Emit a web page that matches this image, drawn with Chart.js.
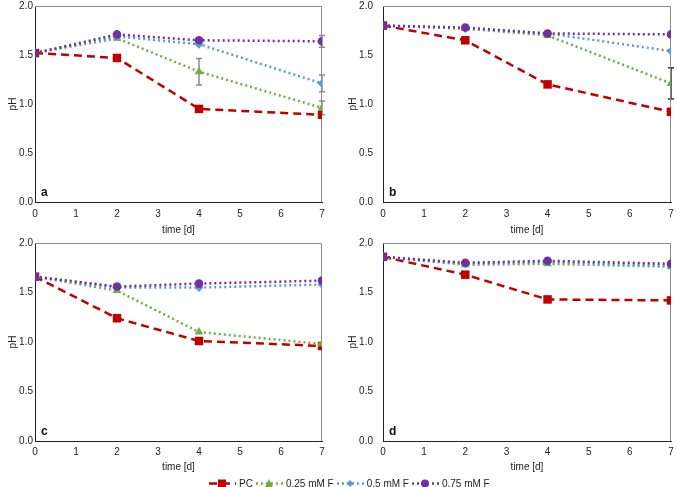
<!DOCTYPE html>
<html>
<head>
<meta charset="utf-8">
<script src="https://cdn.jsdelivr.net/npm/chart.js@4"></script>
<style>
  body { margin: 0; background: #fff; font-family: "Liberation Sans", Arial, sans-serif; }
  #wrap { position: relative; width: 677px; height: 487px; overflow: hidden; }
  .panel { position: absolute; }
  #legend { position: absolute; left: 209px; top: 475px; height: 16px; display: flex; align-items: center;
            font-size: 10px; color: #222; white-space: nowrap; }
  #legend span.item { display: inline-flex; align-items: center; margin-right: 3px; }
  #legend svg { margin-right: 3px; }
</style>
</head>
<body>
<div id="wrap">
  <div class="panel" style="left:0;top:0;width:335px;height:237px"><canvas id="chartA"></canvas></div>
  <div class="panel" style="left:340px;top:0;width:337px;height:237px"><canvas id="chartB"></canvas></div>
  <div class="panel" style="left:0;top:236px;width:335px;height:237px"><canvas id="chartC"></canvas></div>
  <div class="panel" style="left:340px;top:236px;width:337px;height:237px"><canvas id="chartD"></canvas></div>
  <div id="legend"></div>
</div>
<script>
// x values (days)
const days = [0, 2, 4, 7];
const seriesNames = ['PC', '0.25 mM F', '0.5 mM F', '0.75 mM F'];

// panel a
const aPC  = [1.52, 1.47, 0.95, 0.89];
const a025 = [1.52, 1.67, 1.33, 0.96];
const a05  = [1.52, 1.69, 1.61, 1.21];
const a075 = [1.52, 1.71, 1.65, 1.64];
const a025Err = [0, 0, 0.135, 0.07];
const a05Err  = [0, 0, 0, 0.085];
const a075Err = [0, 0, 0, 0.06];

// panel b
const bPC  = [1.80, 1.65, 1.20, 0.92];
const b025 = [1.80, 1.77, 1.70, 1.21];
const b05  = [1.80, 1.77, 1.72, 1.54];
const b075 = [1.80, 1.78, 1.72, 1.71];
const b025Err = [0, 0, 0, 0.16];

// panel c
const cPC  = [1.66, 1.24, 1.01, 0.96];
const c025 = [1.66, 1.52, 1.10, 0.98];
const c05  = [1.66, 1.55, 1.55, 1.58];
const c075 = [1.66, 1.56, 1.59, 1.62];

// panel d
const dPC  = [1.86, 1.68, 1.43, 1.42];
const d025 = [1.86, 1.78, 1.79, 1.76];
const d05  = [1.86, 1.79, 1.81, 1.77];
const d075 = [1.86, 1.80, 1.82, 1.79];

const yTicks = [0, 0.5, 1.0, 1.5, 2.0];
const xTicks = [0, 1, 2, 3, 4, 5, 6, 7];

const styles = [
    { color: '#C00000', dash: [8, 5], point: 'rect', radius: 6, order: 4 },
    { color: '#70AD47', dash: [2, 3], point: 'triangle', radius: 5, order: 3 },
    { color: '#5B9BD5', dash: [2, 3], point: 'rectRot', radius: 4.5, order: 2 },
    { color: '#7030A0', dash: [2, 3], point: 'circle', radius: 4.3, order: 1 }
];

const FONT = '"Liberation Sans", Arial, sans-serif';

function toPoints(vals) {
    return vals.map((v, i) => ({ x: days[i], y: v }));
}

// error bars drawn behind markers
const errorBarPlugin = {
    id: 'errorBars',
    beforeDatasetsDraw(chart) {
        const ctx = chart.ctx;
        const xs = chart.scales.x, ys = chart.scales.y;
        ctx.save();
        ctx.lineWidth = 1.5;
        chart.data.datasets.forEach(ds => {
            if (!ds.errors) return;
            ctx.strokeStyle = ds.errorColor || '#888';
            ds.data.forEach((p, i) => {
                const e = ds.errors[i];
                if (!e) return;
                const x = xs.getPixelForValue(p.x);
                const y1 = ys.getPixelForValue(p.y + e);
                const y2 = ys.getPixelForValue(p.y - e);
                ctx.beginPath();
                ctx.moveTo(x, y1); ctx.lineTo(x, y2);
                ctx.moveTo(x - 3, y1); ctx.lineTo(x + 3, y1);
                ctx.moveTo(x - 3, y2); ctx.lineTo(x + 3, y2);
                ctx.stroke();
            });
        });
        ctx.restore();
    }
};

// gray box round the plot area plus panel letter
const frameLetterPlugin = {
    id: 'frameLetter',
    beforeDatasetsDraw(chart, args, opts) {
        const a = chart.chartArea;
        const ctx = chart.ctx;
        ctx.save();
        ctx.strokeStyle = '#8c8c8c';
        ctx.lineWidth = 1;
        ctx.beginPath();
        ctx.moveTo(a.left, a.top + 0.5);
        ctx.lineTo(a.right - 0.5, a.top + 0.5);
        ctx.lineTo(a.right - 0.5, a.bottom);
        ctx.stroke();
        ctx.fillStyle = '#111';
        ctx.font = 'bold 12px ' + FONT;
        ctx.textBaseline = 'alphabetic';
        ctx.fillText(opts.letter, a.left + 6, a.bottom - 6);
        ctx.restore();
    }
};

function makePanel(id, letter, seriesVals, errs, errColor, cfg) {
    const datasets = seriesVals.map((vals, k) => ({
        label: seriesNames[k],
        data: toPoints(vals),
        borderColor: styles[k].color,
        backgroundColor: styles[k].color,
        borderWidth: 2.5,
        borderDash: styles[k].dash,
        pointStyle: styles[k].point,
        pointRadius: styles[k].radius,
        pointHoverRadius: styles[k].radius,
        pointBorderWidth: 0,
        order: styles[k].order,
        errors: errs[k],
        errorColor: errColor,
        tension: 0
    }));
    return new Chart(document.getElementById(id), {
        type: 'line',
        data: { datasets: datasets },
        plugins: [errorBarPlugin, frameLetterPlugin],
        options: {
            responsive: true, maintainAspectRatio: false, animation: false,
            layout: { padding: cfg.pad },
            plugins: { legend: { display: false }, tooltip: { enabled: false }, frameLetter: { letter: letter } },
            scales: {
                x: {
                    type: 'linear', min: 0, max: 7,
                    afterBuildTicks: s => { s.ticks = xTicks.map(v => ({ value: v })); },
                    afterFit: s => { s.height = cfg.xHeight; s.paddingLeft = 0; s.paddingRight = 0; },
                    grid: { display: false, drawTicks: false },
                    border: { color: '#222', width: 1 },
                    ticks: { color: '#222', font: { size: 10, family: FONT }, padding: cfg.xPad, maxRotation: 0 },
                    title: { display: true, text: 'time [d]', color: '#222', font: { size: 10, family: FONT }, padding: { top: 0, bottom: cfg.titlePad } }
                },
                y: {
                    min: 0, max: 2,
                    afterBuildTicks: s => { s.ticks = yTicks.map(v => ({ value: v })); },
                    afterFit: s => { s.width = cfg.yWidth; s.paddingTop = 0; s.paddingBottom = 0; },
                    grid: { display: false, drawTicks: false },
                    border: { color: '#222', width: 1 },
                    ticks: { color: '#222', font: { size: 10, family: FONT }, padding: cfg.yPad,
                             callback: v => v.toFixed(1) },
                    title: { display: true, text: 'pH', color: '#222', font: { size: 10, family: FONT }, padding: { top: 7, bottom: 0 } }
                }
            }
        }
    });
}

const none = [null, null, null, null];
makePanel('chartA', 'a', [aPC, a025, a05, a075], [null, a025Err, a05Err, a075Err], '#8a8a8a',
    { yWidth: 35, yPad: 2, xHeight: 35, xPad: 6, titlePad: 1, pad: { top: 5, right: 13, left: 0, bottom: 0 } });
makePanel('chartB', 'b', [bPC, b025, b05, b075], [null, b025Err, null, null], '#333',
    { yWidth: 43, yPad: 10, xHeight: 35, xPad: 6, titlePad: 1, pad: { top: 5, right: 5, left: 0, bottom: 0 } });
makePanel('chartC', 'c', [cPC, c025, c05, c075], none, '#888',
    { yWidth: 35, yPad: 2, xHeight: 32, xPad: 5, titlePad: 0, pad: { top: 7, right: 13, left: 0, bottom: 0 } });
makePanel('chartD', 'd', [dPC, d025, d05, d075], none, '#888',
    { yWidth: 43, yPad: 10, xHeight: 32, xPad: 5, titlePad: 0, pad: { top: 7, right: 4, left: 0, bottom: 0 } });

// legend with line + marker samples
function markerSvg(k) {
    const st = styles[k];
    const c = st.color;
    let m = '';
    if (st.point === 'rect') m = `<rect x="9" y="3.5" width="8" height="8" fill="${c}"/>`;
    else if (st.point === 'triangle') m = `<polygon points="13,3 17,11 9,11" fill="${c}"/>`;
    else if (st.point === 'rectRot') m = `<polygon points="13,4 16.5,7.5 13,11 9.5,7.5" fill="${c}"/>`;
    else m = `<circle cx="13" cy="7.5" r="4" fill="${c}"/>`;
    const dash = st.dash.join(',');
    return `<svg width="27" height="15"><line x1="0" y1="7.5" x2="27" y2="7.5" stroke="${c}" stroke-width="2.5" stroke-dasharray="${dash}"/>${m}</svg>`;
}
document.getElementById('legend').innerHTML = seriesNames
    .map((name, k) => `<span class="item">${markerSvg(k)}${name}</span>`).join('');
</script>
</body>
</html>
